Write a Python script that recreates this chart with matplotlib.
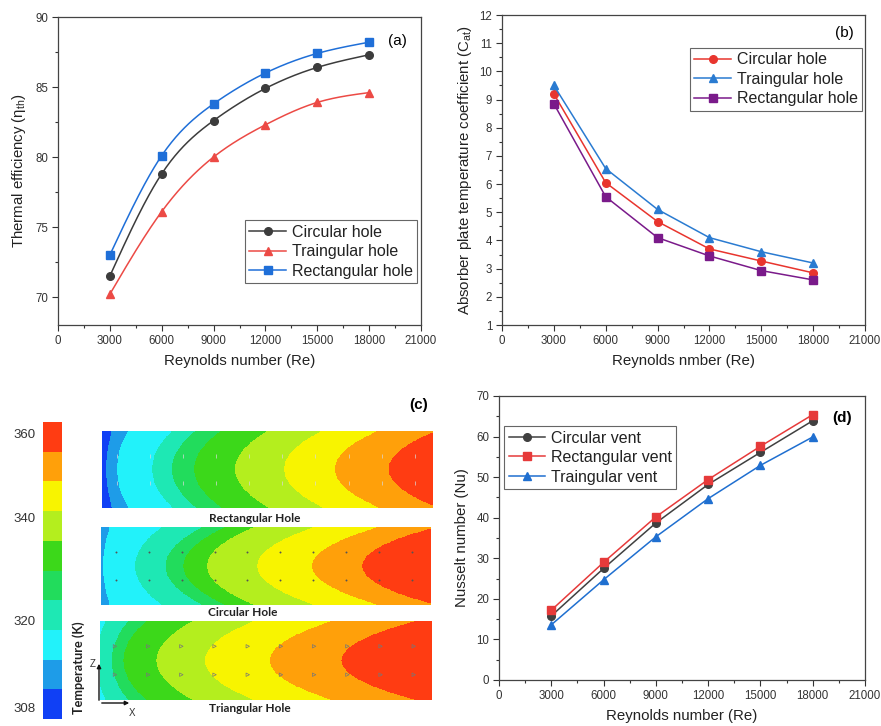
import numpy as np
import matplotlib
matplotlib.use('Agg')
import matplotlib.pyplot as plt
from matplotlib.colors import ListedColormap
from matplotlib.lines import Line2D
from matplotlib.patches import FancyArrowPatch
from matplotlib.ticker import MultipleLocator

plt.rcParams['font.family'] = ['Liberation Sans', 'DejaVu Sans']
plt.rcParams['mathtext.fontset'] = 'custom'
plt.rcParams['mathtext.rm'] = 'Liberation Sans'
plt.rcParams['mathtext.it'] = 'Liberation Sans:italic'

# ---- data ----
reynolds = [3000, 6000, 9000, 12000, 15000, 18000]

# (a) thermal efficiency
eff_circular = [71.5, 78.8, 82.6, 84.9, 86.4, 87.3]
eff_triangular = [70.2, 76.1, 80.0, 82.3, 83.9, 84.6]
eff_rectangular = [73.0, 80.1, 83.8, 86.0, 87.4, 88.2]

# (b) absorber plate temperature coefficient
cat_circular = [9.2, 6.05, 4.67, 3.7, 3.27, 2.85]
cat_triangular = [9.5, 6.55, 5.1, 4.1, 3.6, 3.2]
cat_rectangular = [8.85, 5.55, 4.1, 3.45, 2.93, 2.6]

# (d) Nusselt number
nu_circular = [15.8, 27.5, 38.7, 48.2, 56.1, 63.9]
nu_rectangular = [17.2, 29.0, 40.2, 49.4, 57.6, 65.4]
nu_triangular = [13.6, 24.7, 35.3, 44.7, 52.9, 59.9]

# (c) temperature contours: 10 colour bands (bottom -> top of colour bar)
band_colors = ['#1040f5', '#1e9ce8', '#22f2fa', '#1ee8b4', '#22dc5c',
               '#3cd81a', '#b4ee1e', '#f8f400', '#ffa00a', '#ff3c12']
cbar_labels = ['308', '320', '340', '360']
cbar_label_pos = [0.4, 3.3, 6.77, 9.6]
# band edges along the plate centreline (fraction of plate length)
edges_rect = [0.012, 0.045, 0.151, 0.211, 0.278, 0.402, 0.55, 0.704, 0.867]
edges_circ = [-1, 0.006, 0.103, 0.195, 0.25, 0.321, 0.473, 0.64, 0.792]
edges_tri = [-1, -1, -0.01, 0.035, 0.07, 0.17, 0.316, 0.512, 0.728]
curv_rect, curv_circ, curv_tri = 0.16, 0.25, 0.26
hole_u = [0.045, 0.145, 0.245, 0.345, 0.445, 0.545, 0.645, 0.745, 0.845, 0.945]
hole_v = [0.32, 0.68]

W, H = 881, 726
fig = plt.figure(figsize=(W / 100, H / 100), dpi=100)


def px_axes(l, t, r, b):
    return fig.add_axes([l / W, 1 - b / H, (r - l) / W, (b - t) / H])


def spline(x, y, n=300):
    # natural cubic spline, used only to draw the smooth connecting line
    x = np.asarray(x, float) / 1000.0
    y = np.asarray(y, float)
    m = len(x)
    h = np.diff(x)
    A = np.zeros((m, m))
    r = np.zeros(m)
    A[0, 0] = A[-1, -1] = 1
    for i in range(1, m - 1):
        A[i, i - 1] = h[i - 1]
        A[i, i] = 2 * (h[i - 1] + h[i])
        A[i, i + 1] = h[i]
        r[i] = 3 * ((y[i + 1] - y[i]) / h[i] - (y[i] - y[i - 1]) / h[i - 1])
    c = np.linalg.solve(A, r)
    b = (y[1:] - y[:-1]) / h - h * (2 * c[:-1] + c[1:]) / 3
    d = (c[1:] - c[:-1]) / (3 * h)
    xs = np.linspace(x[0], x[-1], n)
    idx = np.clip(np.searchsorted(x, xs) - 1, 0, m - 2)
    dx = xs - x[idx]
    ys = y[idx] + b[idx] * dx + c[idx] * dx ** 2 + d[idx] * dx ** 3
    return xs * 1000.0, ys


def style(ax, ymin, ymax, ymajor, yminor):
    ax.set_xlim(0, 21000)
    ax.set_ylim(ymin, ymax)
    ax.xaxis.set_major_locator(MultipleLocator(3000))
    ax.xaxis.set_minor_locator(MultipleLocator(1500))
    ax.yaxis.set_major_locator(MultipleLocator(ymajor))
    ax.yaxis.set_minor_locator(MultipleLocator(yminor))
    ax.tick_params(which='both', direction='out', top=False, right=False,
                   colors='#333333', labelsize=8.3, width=0.8)
    ax.tick_params(which='major', length=4, pad=3)
    ax.tick_params(which='minor', length=2.3)
    for s in ax.spines.values():
        s.set_color('#444444')
        s.set_linewidth(0.9)


def legend(ax, handles, loc, anchor):
    leg = ax.legend(handles=handles, loc=loc, bbox_to_anchor=anchor, fontsize=11.5,
                    frameon=True, fancybox=False, edgecolor='#666666', framealpha=1,
                    handlelength=2.3, handletextpad=0.35, labelspacing=0.28,
                    borderpad=0.28, borderaxespad=0)
    leg.get_frame().set_linewidth(0.8)
    for t in leg.get_texts():
        t.set_color('#222222')


def proxy(color, marker, label, ms=5.5):
    return Line2D([], [], color=color, marker=marker, markersize=ms, lw=1.1, label=label)


# ---- (a) ----
ax1 = px_axes(58, 17, 421, 325)
series_a = [(eff_circular, '#3c3c3c', 'o', 'Circular hole'),
            (eff_triangular, '#ec4a45', '^', 'Traingular hole'),
            (eff_rectangular, '#1f6fd8', 's', 'Rectangular hole')]
handles = []
for vals, col, mk, lab in series_a:
    xs, ys = spline(reynolds, vals)
    ax1.plot(xs, ys, color=col, lw=1.1)
    ax1.plot(reynolds, vals, ls='none', marker=mk, color=col, markersize=5.5)
    handles.append(proxy(col, mk, lab))
style(ax1, 68, 90, 5, 2.5)
ax1.set_xlabel('Reynolds number (Re)', fontsize=10.8, color='#222222', labelpad=5)
ax1.set_ylabel('Thermal efficiency (η$_{\\rm th}$)', fontsize=10.8, color='#222222', labelpad=5)
ax1.text(0.934, 0.922, '(a)', transform=ax1.transAxes, fontsize=11, ha='center', va='center')
legend(ax1, handles, 'lower right', (0.989, 0.136))

# ---- (b) ----
ax2 = px_axes(502, 15, 865, 325)
series_b = [(cat_circular, '#e8352e', 'o', 'Circular hole'),
            (cat_triangular, '#2a7bd1', '^', 'Traingular hole'),
            (cat_rectangular, '#7a1a8a', 's', 'Rectangular hole')]
handles = []
for vals, col, mk, lab in series_b:
    ax2.plot(reynolds, vals, color=col, marker=mk, markersize=5.5, lw=1.1)
    handles.append(proxy(col, mk, lab))
style(ax2, 1, 12, 1, 0.5)
ax2.set_xlabel('Reynolds nmber (Re)', fontsize=10.8, color='#222222', labelpad=5)
ax2.set_ylabel('Absorber plate temperature coefficient (C$_{\\rm at}$)', fontsize=10.8,
               color='#222222', labelpad=4)
ax2.text(0.942, 0.942, '(b)', transform=ax2.transAxes, fontsize=11, ha='center', va='center')
legend(ax2, handles, 'upper right', (0.992, 0.894))

# ---- (d) ----
ax4 = px_axes(499, 396, 865, 680)
series_d = [(nu_circular, '#404040', 'o', 'Circular vent'),
            (nu_rectangular, '#e63a3a', 's', 'Rectangular vent'),
            (nu_triangular, '#1f6fd0', '^', 'Traingular vent')]
handles = []
for vals, col, mk, lab in series_d:
    ax4.plot(reynolds, vals, color=col, marker=mk, markersize=5.5, lw=1.1)
    handles.append(proxy(col, mk, lab))
style(ax4, 0, 70, 10, 5)
ax4.set_xlabel('Reynolds number (Re)', fontsize=10.8, color='#222222', labelpad=5)
ax4.set_ylabel('Nusselt number (Nu)', fontsize=10.8, color='#222222', labelpad=5)
ax4.text(0.937, 0.922, '(d)', transform=ax4.transAxes, fontsize=11, fontweight='bold',
         ha='center', va='center')
legend(ax4, handles, 'upper left', (0.014, 0.894))

# ---- (c) ----
cmap = ListedColormap(band_colors)

cax = px_axes(43, 422, 62, 719)
cax.imshow(np.arange(10)[:, None], cmap=cmap, vmin=-0.5, vmax=9.5, aspect='auto',
           origin='lower', extent=(0, 1, 0, 10), interpolation='nearest')
cax.set_xticks([])
cax.set_yticks(cbar_label_pos)
cax.set_yticklabels(cbar_labels)
cax.tick_params(axis='y', length=0, pad=5, labelsize=9.5, colors='#333333')
for s in cax.spines.values():
    s.set_visible(False)


def plate(box, edges, curv, marker, mcolor, msize, face):
    ax = px_axes(*box)
    u = np.linspace(0, 1, 700)
    v = np.linspace(0, 1, 170)
    U, V = np.meshgrid(u, v)
    w2 = (2 * V - 1) ** 2
    band = np.zeros(U.shape, dtype=int)
    for b in edges:
        band += (U > b + curv * np.sqrt(abs(b)) * w2)
    ax.imshow(band, cmap=cmap, vmin=-0.5, vmax=9.5, aspect='auto', origin='lower',
              extent=(0, 1, 0, 1), interpolation='nearest')
    hu, hv = np.meshgrid(hole_u, hole_v)
    ax.scatter(hu.ravel(), hv.ravel(), marker=marker, s=msize, c=face,
               edgecolors=mcolor, linewidths=0.5)
    ax.set_xlim(0, 1)
    ax.set_ylim(0, 1)
    ax.axis('off')


plate((102, 431, 433, 508), edges_rect, curv_rect, '|', '#d8d8d8', 6, '#d8d8d8')
plate((101, 527, 430, 605), edges_circ, curv_circ, '.', '#555555', 3, '#555555')
plate((100, 621, 432, 700), edges_tri, curv_tri, '>', '#777777', 6, 'none')

lab_kw = dict(ha='center', va='center', fontsize=8.6, fontweight='bold',
              family=['Lato', 'DejaVu Sans'], color='#222222')
fig.text(255 / W, 1 - 518 / H, 'Rectangular Hole', **lab_kw)
fig.text(243 / W, 1 - 612 / H, 'Circular Hole', **lab_kw)
fig.text(250 / W, 1 - 709 / H, 'Triangular Hole', **lab_kw)
fig.text(79 / W, 1 - 668 / H, 'Temperature (K)', rotation=90, ha='center', va='center',
         fontsize=9.2, fontweight='bold', family=['Lato', 'DejaVu Sans'], color='#222222')
fig.text(419 / W, 1 - 405 / H, '(c)', ha='center', va='center', fontsize=11,
         fontweight='bold')

for end in [(99, 661), (132, 703)]:
    fig.add_artist(FancyArrowPatch((99 / W, 1 - 703 / H), (end[0] / W, 1 - end[1] / H),
                                   transform=fig.transFigure, arrowstyle='-|>',
                                   mutation_scale=6, lw=1.0, color='#111111'))
fig.text(93 / W, 1 - 664 / H, 'Z', ha='center', va='center', fontsize=7, color='#333333')
fig.text(132 / W, 1 - 713 / H, 'X', ha='center', va='center', fontsize=7, color='#333333')

fig.savefig('out.png', dpi=100)
